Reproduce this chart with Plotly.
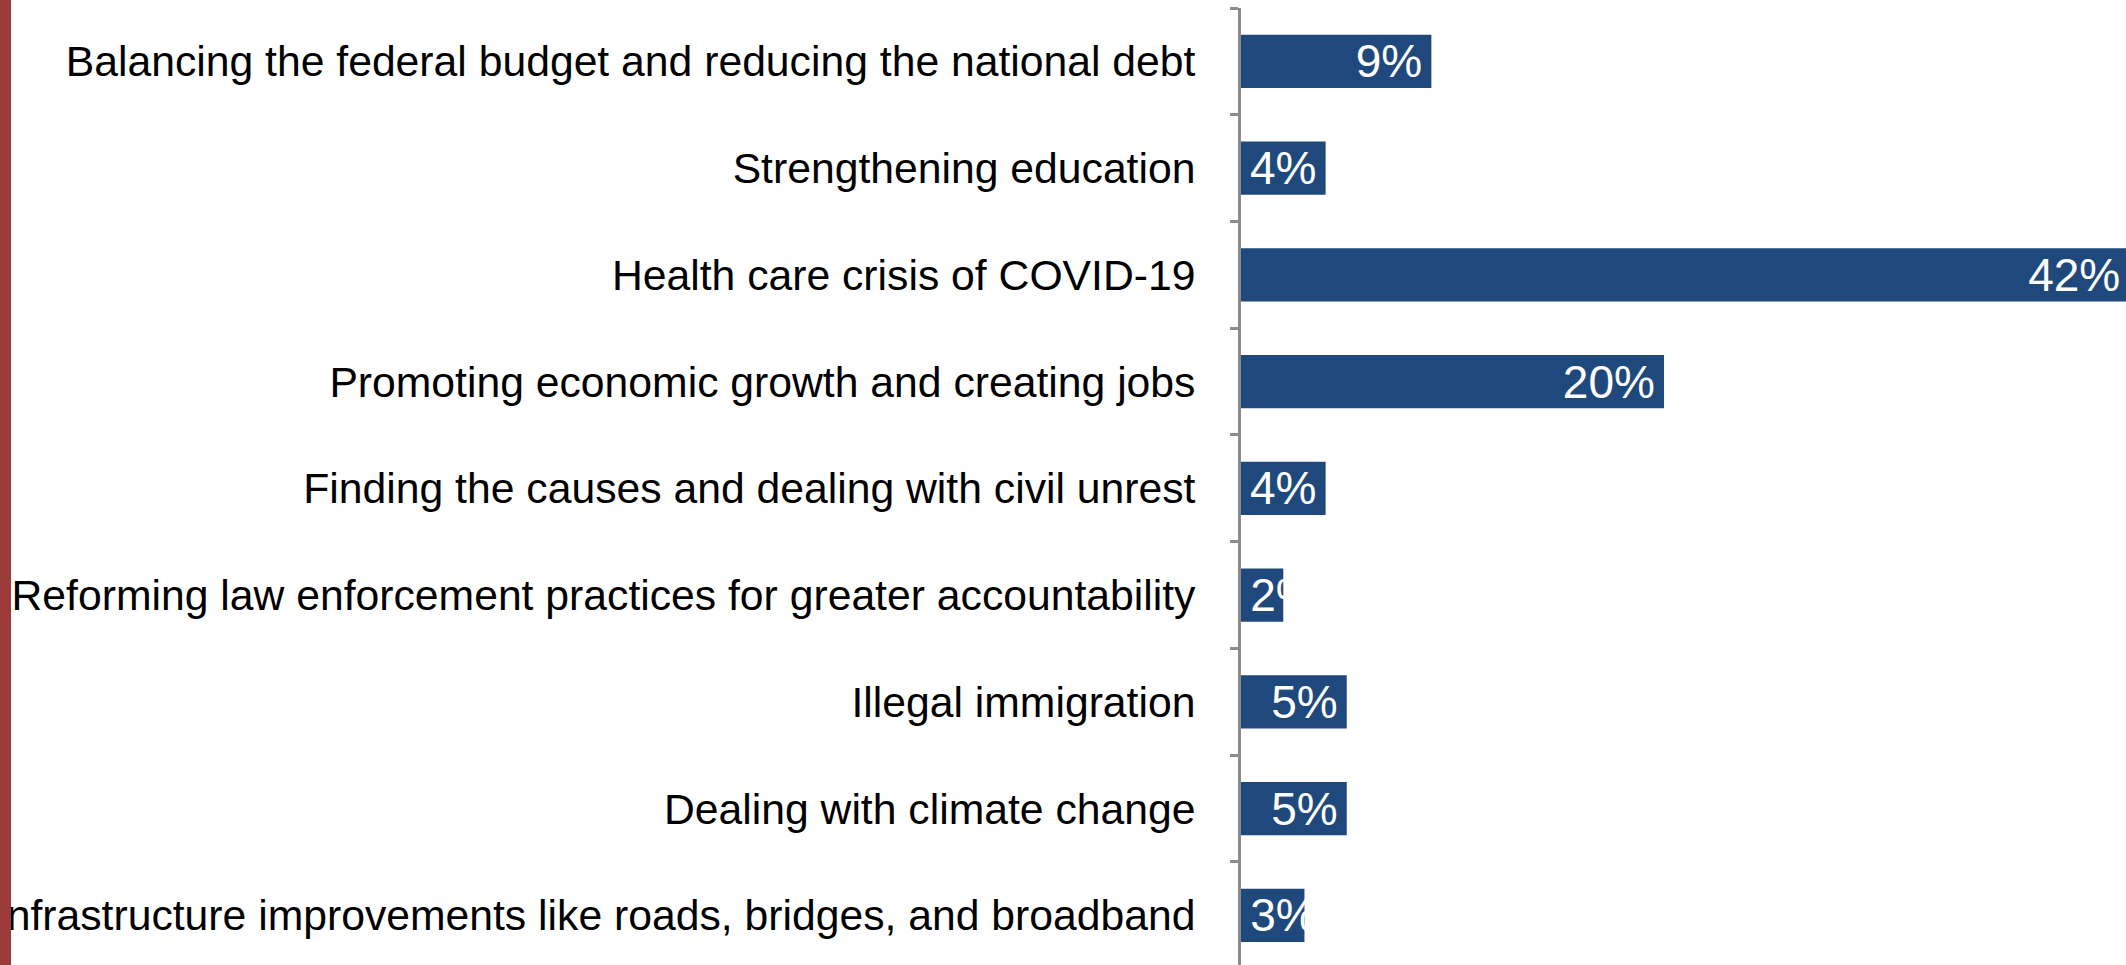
import plotly.graph_objects as go

categories = [
    "Balancing the federal budget and reducing the national debt",
    "Strengthening education",
    "Health care crisis of COVID-19",
    "Promoting economic growth and creating jobs",
    "Finding the causes and dealing with civil unrest",
    "Reforming law enforcement practices for greater accountability",
    "Illegal immigration",
    "Dealing with climate change",
    "Infrastructure improvements like roads, bridges, and broadband",
]
values = [9, 4, 42, 20, 4, 2, 5, 5, 3]
labels = [f"{v}%" for v in values]

W, H = 2126, 965
ML, MT = 1241, 8
BAR = "#1f497d"
AXIS = "#8c8c8c"
FONT = "Liberation Sans, Arial"
PAD = "<span style='font-size:22px'>\u00a0</span>"

# labels that fit are anchored at the bar end; the narrowest bars start-anchor (Excel-like)
fit = [v >= 4 for v in values]

fig = go.Figure()
for want, anchor in [(True, "end"), (False, "start")]:
    idx = [i for i, f in enumerate(fit) if f == want]
    txt = [(labels[i] + PAD) if anchor == "end" else (PAD + labels[i]) for i in idx]
    fig.add_trace(go.Bar(
        x=[values[i] for i in idx],
        y=[categories[i] for i in idx],
        orientation="h",
        marker=dict(color=BAR, line=dict(width=0)),
        text=txt,
        textposition="inside",
        insidetextanchor=anchor,
        textangle=0,
        textfont=dict(family=FONT, size=46, color="white"),
        cliponaxis=True,
        hoverinfo="skip",
    ))

fig.update_layout(
    width=W, height=H,
    margin=dict(l=ML, r=0, t=MT, b=0, pad=0, autoexpand=False),
    paper_bgcolor="white",
    plot_bgcolor="white",
    bargap=0.5,
    barmode="overlay",
    showlegend=False,
    uniformtext=dict(mode="show", minsize=46),
    font=dict(family=FONT, color="black"),
)

fig.update_xaxes(
    range=[0, 41.84],
    automargin=False,
    showgrid=False, zeroline=False, showline=False,
    showticklabels=False, ticks="",
)
fig.update_yaxes(
    type="category",
    automargin=False,
    categoryorder="array", categoryarray=categories,
    range=[8.465, -0.5],
    showgrid=False, zeroline=False,
    showline=True, linecolor=AXIS, linewidth=3,
    ticks="outside", tickson="boundaries", ticklen=8, tickwidth=3, tickcolor=AXIS,
    tickfont=dict(family=FONT, size=42.7, color="black"),
    ticklabelstandoff=34,
)

# decorative red slide edge on the left
fig.add_shape(
    type="rect", xref="paper", yref="paper",
    x0=-ML / (W - ML), x1=(-ML + 11) / (W - ML),
    y0=-0.1, y1=1.1,
    fillcolor="#9c3a3a", line=dict(width=0), layer="above",
)

fig.write_html(
    "out.html",
    config={"displayModeBar": False},
    post_script="document.body.style.margin='0';document.body.style.overflow='hidden';",
)
